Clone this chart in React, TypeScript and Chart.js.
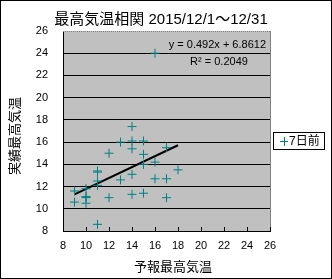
import { useEffect, useRef } from "react";
import { Chart, registerables } from "chart.js";

Chart.register(...registerables);

// 予報最高気温 (x) and 実績最高気温 (y), Dec 1–31 2015 (7日前 forecast)
const forecastTemps = [9, 9, 10, 10, 10, 10, 11, 11, 11, 11, 11, 12, 12, 13, 13, 14, 14, 14, 14, 14, 15, 15, 15, 15, 16, 16, 16, 17, 17, 17, 18];
const actualTemps = [11.6, 10.6, 11.8, 11.0, 11.1, 10.5, 13.4, 13.3, 12.5, 12.1, 8.6, 15.0, 11.0, 16.0, 12.6, 17.4, 16.1, 15.4, 13.1, 11.3, 16.1, 14.9, 14.0, 11.4, 14.2, 12.7, 24.0, 15.5, 12.7, 11.0, 13.5];

const trendSlope = 0.492;
const trendIntercept = 6.8612;
const trendRange = [9, 18];

const axisTicks = [8, 10, 12, 14, 16, 18, 20, 22, 24, 26];

const titleText = "最高気温相関 2015/12/1～12/31";
const xTitle = "予報最高気温";
const yTitle = "実績最高気温";
const seriesLabel = "7日前";
const equationText = "y = 0.492x + 6.8612";
const r2Text = "R² = 0.2049";

const TEAL = "#008080";
const FONT = '"Liberation Sans", "Noto Sans CJK JP", sans-serif';

const decor = {
  id: "decor",
  beforeDraw(chart: any) {
    const { ctx, chartArea: a } = chart;
    ctx.save();
    ctx.fillStyle = "#ffffff";
    ctx.fillRect(0, 0, chart.width, chart.height);
    ctx.fillStyle = "#c0c0c0";
    ctx.fillRect(a.left, a.top, a.right - a.left, a.bottom - a.top);
    ctx.restore();
  },
  afterDraw(chart: any) {
    const { ctx, chartArea: a, scales } = chart;
    ctx.save();
    // plot border (top / right) in gray
    ctx.strokeStyle = "#808080";
    ctx.lineWidth = 1;
    ctx.setLineDash([1, 1]);
    ctx.beginPath();
    ctx.moveTo(a.left, Math.round(a.top) + 0.5);
    ctx.lineTo(Math.round(a.right) + 0.5, Math.round(a.top) + 0.5);
    ctx.stroke();
    ctx.setLineDash([]);
    ctx.beginPath();
    ctx.moveTo(Math.round(a.right) + 0.5, a.top);
    ctx.lineTo(Math.round(a.right) + 0.5, a.bottom);
    ctx.stroke();

    // inner x tick marks
    ctx.strokeStyle = "#000";
    ctx.beginPath();
    for (const v of axisTicks) {
      const px = Math.round(scales.x.getPixelForValue(v)) + 0.5;
      ctx.moveTo(px, a.bottom);
      ctx.lineTo(px, a.bottom - 4);
    }
    ctx.stroke();

    // outer frame
    ctx.strokeStyle = "#000";
    ctx.strokeRect(0.5, 0.5, chart.width - 1, chart.height - 1);

    // title
    ctx.fillStyle = "#000";
    ctx.textBaseline = "middle";
    ctx.textAlign = "center";
    ctx.font = `15px ${FONT}`;
    ctx.fillText(titleText, 161, 20);

    // axis titles
    ctx.font = `13px ${FONT}`;
    ctx.fillText(xTitle, 173, 267.5);
    ctx.save();
    ctx.translate(15, 136);
    ctx.rotate(-Math.PI / 2);
    ctx.fillText(yTitle, 0, 0);
    ctx.restore();

    // trendline labels
    ctx.font = `11px ${FONT}`;
    ctx.textAlign = "right";
    ctx.fillText(equationText, 266, 45);
    ctx.textAlign = "center";
    ctx.fillText(r2Text, 219, 62);

    // legend
    ctx.strokeStyle = "#000";
    ctx.strokeRect(273.5, 132.5, 51, 17);
    ctx.strokeStyle = TEAL;
    ctx.beginPath();
    ctx.moveTo(280, 141.5);
    ctx.lineTo(288, 141.5);
    ctx.moveTo(284.5, 137);
    ctx.lineTo(284.5, 146);
    ctx.stroke();
    ctx.fillStyle = "#000";
    ctx.textAlign = "left";
    ctx.font = `12px ${FONT}`;
    ctx.fillText(seriesLabel, 289, 141.5);
    ctx.restore();
  },
};

export default function App() {
  const ref = useRef<HTMLCanvasElement | null>(null);

  useEffect(() => {
    if (!ref.current) return;
    const points = forecastTemps.map((x, i) => ({ x, y: actualTemps[i] }));
    const trend = trendRange.map((x) => ({ x, y: trendSlope * x + trendIntercept }));
    const chart = new Chart(ref.current, {
      type: "scatter",
      data: {
        datasets: [
          {
            label: seriesLabel,
            data: points,
            pointStyle: "cross",
            pointRadius: 4.5,
            borderColor: TEAL,
            backgroundColor: TEAL,
            borderWidth: 1,
            showLine: false,
          },
          {
            label: "trend",
            data: trend,
            showLine: true,
            borderColor: "#000",
            borderWidth: 2,
            pointRadius: 0,
          },
        ],
      },
      options: {
        responsive: false,
        animation: false,
        events: [],
        layout: { padding: { left: 0, right: 62, top: 31, bottom: 0 } },
        plugins: {
          legend: { display: false },
          tooltip: { enabled: false },
          title: { display: false },
        },
        scales: {
          x: {
            type: "linear",
            min: 8,
            max: 26,
            afterBuildTicks: (s: any) => {
              s.ticks = axisTicks.map((v) => ({ value: v }));
            },
            afterFit: (s: any) => {
              s.height = 48;
            },
            grid: { display: false, drawTicks: false },
            border: { display: true, color: "#000", width: 1 },
            ticks: { color: "#000", font: { family: FONT, size: 11 }, padding: 8, maxRotation: 0 },
            title: { display: false },
          },
          y: {
            type: "linear",
            min: 8,
            max: 26,
            afterBuildTicks: (s: any) => {
              s.ticks = axisTicks.map((v) => ({ value: v }));
            },
            afterFit: (s: any) => {
              s.width = 63;
            },
            grid: {
              display: true,
              drawTicks: false,
              color: (c: any) => (c.tick && c.tick.value === 26 ? "rgba(0,0,0,0)" : "#000"),
              lineWidth: 1,
            },
            border: { display: true, color: "#000", width: 1 },
            ticks: { color: "#000", font: { family: FONT, size: 11 }, padding: 15 },
            title: { display: false },
          },
        },
      },
      plugins: [decor],
    });
    return () => chart.destroy();
  }, []);

  return (
    <div style={{ position: "fixed", left: 0, top: 0, width: 332, height: 279 }}>
      <canvas ref={ref} width={332} height={279} style={{ width: 332, height: 279, display: "block" }} />
    </div>
  );
}
